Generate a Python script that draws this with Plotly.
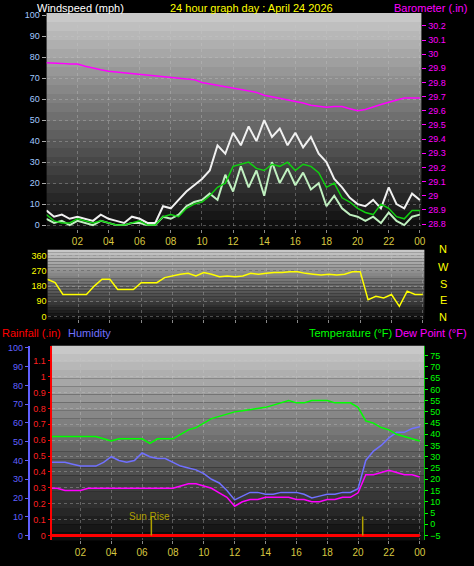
import plotly.graph_objects as go

hours = [i * 0.5 for i in range(49)]

# ==== wind / barometer ====
gust = [7, 4, 5, 3, 4, 3, 2, 5, 3, 2, 1, 4, 3, 1, 1, 9, 8, 12, 16, 19, 22, 26, 38, 34, 44,
        38, 47, 40, 50, 42, 46, 38, 44, 37, 42, 34, 30, 22, 18, 13, 10, 9, 12, 8, 18, 10, 8, 15, 12]
speed = [3, 1, 2, 0, 2, 1, 0, 2, 1, 0, 0, 1, 1, 0, 0, 4, 3, 5, 9, 11, 12, 15, 12, 24, 16,
         28, 18, 26, 14, 30, 20, 27, 19, 25, 17, 20, 9, 14, 8, 5, 4, 2, 4, 1, 6, 2, 0, 4, 5]
avg_wind = [5, 2, 1, 1, 3, 2, 1, 2, 1, 0, 0, 1, 2, 0, 0, 4, 5, 4, 8, 10, 11, 14, 18, 20, 28,
            29, 30, 27, 26, 29, 28, 30, 26, 29, 28, 25, 18, 20, 13, 11, 8, 6, 5, 10, 8, 4, 3, 7, 7]
baro = [29.94, 29.94, 29.935, 29.93, 29.93, 29.915, 29.90, 29.89, 29.88, 29.875, 29.87, 29.86,
        29.855, 29.85, 29.845, 29.84, 29.84, 29.835, 29.83, 29.82, 29.80, 29.79, 29.78, 29.77,
        29.76, 29.75, 29.74, 29.73, 29.71, 29.70, 29.69, 29.68, 29.67, 29.655, 29.64, 29.63,
        29.625, 29.63, 29.63, 29.615, 29.60, 29.61, 29.63, 29.645, 29.66, 29.675, 29.69, 29.69, 29.69]

# ==== wind direction ====
wind_dir = [220, 200, 130, 130, 130, 130, 180, 220, 220, 160, 160, 160, 200, 200, 200, 230, 240,
            250, 255, 240, 260, 250, 235, 240, 235, 240, 255, 250, 255, 260, 260, 265, 265, 255,
            250, 245, 250, 245, 250, 265, 265, 100, 120, 110, 130, 60, 150, 130, 130]

# ==== temperature / humidity / dew point ====
temp = [39, 39, 39, 39, 39, 39, 39, 38, 37, 38, 38, 38, 38, 36, 38, 38, 38, 40, 42, 43, 45, 47,
        48, 49, 50, 50.5, 51, 51.5, 52, 53, 54, 55, 54, 54, 55, 55, 55, 54, 54, 54, 52, 46, 45,
        43, 42, 40, 39, 38, 37]
humidity = [39, 39, 39, 38, 37, 37, 37, 39, 42, 40, 39, 40, 44, 42, 41, 41, 39, 37, 36, 35, 33,
            30, 28, 24, 19, 21, 23, 23, 22, 22, 23, 23, 23, 22, 20, 21, 22, 22, 23, 23, 25, 40,
            45, 48, 52, 55, 55, 57, 58]
dew_point = [16, 16, 15, 15, 15, 16, 16, 16, 16, 16, 16, 16, 16, 16, 16, 16, 16, 17, 18, 18, 17,
             16, 14, 12, 8, 10, 11, 11, 12, 12, 12, 12, 11, 11, 10, 10, 11, 11, 12, 12, 14, 22,
             22, 23, 24, 23, 22, 22, 21]
rainfall = [0] * 49

tick_vals = list(range(2, 25, 2))
tick_text = ["02", "04", "06", "08", "10", "12", "14", "16", "18", "20", "22", "00"]

FONT = "Liberation Sans, Arial"
fig = go.Figure()

# top panel
fig.add_trace(go.Scatter(x=hours, y=gust, mode="lines", line=dict(color="#f0f0f0", width=2), xaxis="x", yaxis="y"))
fig.add_trace(go.Scatter(x=hours, y=speed, mode="lines", line=dict(color="#c0f0c0", width=2), xaxis="x", yaxis="y"))
fig.add_trace(go.Scatter(x=hours, y=avg_wind, mode="lines", line=dict(color="#10d010", width=1.5), xaxis="x", yaxis="y"))
fig.add_trace(go.Scatter(x=hours, y=baro, mode="lines", line=dict(color="#ff00ff", width=1.5), xaxis="x", yaxis="y2"))
# direction
fig.add_trace(go.Scatter(x=hours, y=wind_dir, mode="lines", line=dict(color="#ffff00", width=1.5), xaxis="x3", yaxis="y3"))
# bottom
fig.add_trace(go.Scatter(x=hours, y=rainfall, mode="lines", line=dict(color="#ff0000", width=3), xaxis="x4", yaxis="y4"))
fig.add_trace(go.Scatter(x=hours, y=humidity, mode="lines", line=dict(color="#7070ff", width=1.5), xaxis="x4", yaxis="y5"))
fig.add_trace(go.Scatter(x=hours, y=temp, mode="lines", line=dict(color="#00ff00", width=1.5), xaxis="x4", yaxis="y6"))
fig.add_trace(go.Scatter(x=hours, y=dew_point, mode="lines", line=dict(color="#ff00ff", width=1.5), xaxis="x4", yaxis="y6"))
# sunrise / sunset markers
for h in [6.6, 20.3]:
    fig.add_trace(go.Scatter(x=[h, h], y=[-5, 3.5], mode="lines", line=dict(color="#b0a000", width=1.5), xaxis="x4", yaxis="y6"))

grid = dict(showgrid=True, gridcolor="rgba(200,200,200,0.35)", griddash="dot", zeroline=False)

# gradient backgrounds
shapes = []
n = 24
for xr, yr in [("x domain", "y domain"), ("x3 domain", "y3 domain"), ("x4 domain", "y4 domain")]:
    for i in range(n):
        v = int(200 - 185 * (i / (n - 1)))
        shapes.append(dict(type="rect", xref=xr, yref=yr, x0=0, x1=1, y0=1 - (i + 1) / n, y1=1 - i / n,
                           fillcolor=f"rgb({v},{v},{v})", line=dict(width=0), layer="below"))

xa = dict(range=[0.02, 24.1], tickvals=tick_vals, ticktext=tick_text, tickfont=dict(color="#d8c840", size=10),
          ticks="outside", ticklen=3, tickcolor="#888", **grid)

fig.update_layout(
    width=474, height=566, margin=dict(l=0, r=0, t=0, b=0),
    paper_bgcolor="black", plot_bgcolor="black", showlegend=False,
    font=dict(family=FONT, size=10),
    shapes=shapes,
    xaxis=dict(domain=[47 / 474, 425 / 474], anchor="y", **xa),
    yaxis=dict(domain=[0.597, 0.982], range=[-1.9, 101], dtick=10, tickfont=dict(color="#a0c8ff", size=9),
               ticks="outside", ticklen=4, tickcolor="#aaa", **grid),
    yaxis2=dict(overlaying="y", side="right", range=[28.765, 30.29], dtick=0.1, tickformat="~g",
                tickfont=dict(color="#ff00ff", size=9), ticks="outside", ticklen=4, tickcolor="#ff00ff",
                showgrid=False, zeroline=False, anchor="x"),
    xaxis3=dict(domain=[48 / 474, 428 / 474], anchor="y3", showticklabels=False, **{k: v for k, v in xa.items() if k not in ("tickfont",)}),
    yaxis3=dict(domain=[0.436, 0.560], range=[-17, 394], tickvals=[0, 90, 180, 270, 360],
                tickfont=dict(color="#ffff00", size=9), anchor="x3", **grid),
    xaxis4=dict(domain=[52 / 474, 428 / 474], anchor="y4", **{**xa, "range": [0.13, 24.3]}),
    yaxis4=dict(domain=[0.042, 0.389], range=[-0.031, 1.194], dtick=0.1, tickformat="~g",
                tickfont=dict(color="#ff2020", size=9), anchor="x4", showline=True, linecolor="#ff0000",
                linewidth=2, ticks="outside", ticklen=2, tickcolor="#ff0000", **grid),
    yaxis5=dict(overlaying="y4", anchor="free", position=29 / 474, range=[-2.6, 101.1], dtick=10,
                tickfont=dict(color="#6060ff", size=9), showline=True, linecolor="#6060ff", linewidth=2,
                ticks="outside", ticklen=3, tickcolor="#6060ff", showgrid=False, zeroline=False),
    yaxis6=dict(overlaying="y4", side="right", anchor="x4", range=[-7.2, 79.4], dtick=5,
                tickfont=dict(color="#00ff00", size=9), showline=True, linecolor="#00c000", linewidth=1,
                ticks="outside", ticklen=3, tickcolor="#00ff00", showgrid=False, zeroline=False),
)

def label(text, x, y, color, anchor="left", size=11):
    fig.add_annotation(text=text, x=x / 474, y=1 - y / 566, xref="paper", yref="paper", showarrow=False,
                       xanchor=anchor, yanchor="middle", font=dict(color=color, size=size, family=FONT))

label("Windspeed (mph)", 35, 5, "white")
label("24 hour graph day : April 24 2026", 254, 5, "#ffff00", "center")
label("Barometer (.in)", 473, 5, "#ff00ff", "right")
for t, y in [("N", 248), ("W", 266), ("S", 283), ("E", 300), ("N", 317)]:
    label(t, 447, y, "#ffff00", "center")
label("Rainfall (.in)", 0, 333, "#ff0000")
label("Humidity", 67, 333, "#7070ff")
label("Temperature (°F)", 397, 333, "#00ff00", "right")
label("Dew Point (°F)", 473, 333, "#ff00ff", "right")
label("Sun Rise", 151, 518, "#b0a000", "center", 10)

fig.write_html("out.html", config={"displayModeBar": False},
               post_script="document.body.style.margin='0';document.body.style.overflow='hidden';")
